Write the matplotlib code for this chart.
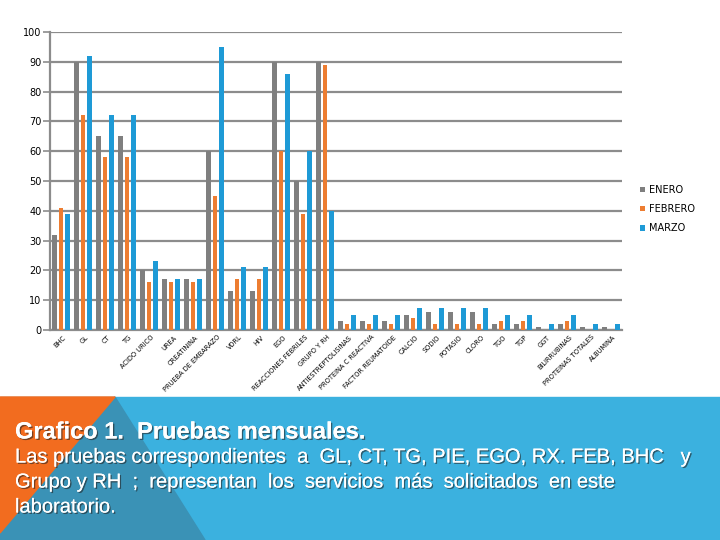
import matplotlib
matplotlib.use("Agg")
from matplotlib import pyplot as plt
from matplotlib.patches import Polygon
import matplotlib.patheffects as pe
import numpy as np

# datos
pruebas = ["BHC", "GL", "CT", "TG", "ACIDO URICO", "UREA", "CREATININA",
           "PRUEBA DE EMBARAZO", "VDRL", "HIV", "EGO", "REACCIONES FEBRILES",
           "GRUPO Y RH", "ANTIESTREPTOLISINAS", "PROTEINA C REACTIVA",
           "FACTOR REUMATOIDE", "CALCIO", "SODIO", "POTASIO", "CLORO", "TGO",
           "TGP", "GGT", "BILIRRUBINAS", "PROTEINAS TOTALES", "ALBUMINA"]
enero = [32, 90, 65, 65, 20, 17, 17, 60, 13, 13, 90, 50, 90,
         3, 3, 3, 5, 6, 6, 6, 2, 2, 1, 2, 1, 1]
febrero = [41, 72, 58, 58, 16, 16, 16, 45, 17, 17, 60, 39, 89,
           2, 2, 2, 4, 2, 2, 2, 3, 3, 0, 3, 0, 0]
marzo = [39, 92, 72, 72, 23, 17, 17, 95, 21, 21, 86, 60, 40,
         5, 5, 5, 7.5, 7.5, 7.5, 7.5, 5, 5, 2, 5, 2, 2]

gris = "#7f7f7f"
naranja = "#ed7d31"
azul = "#1e9ad6"

fig = plt.figure(figsize=(7.2, 5.4), dpi=100)
ax = fig.add_axes([50/720, 1-330/540, 572/720, 298/540])

x = np.arange(len(pruebas))
w = 0.22
ax.bar(x - 0.28, enero, w, color=gris, label="ENERO", zorder=3)
ax.bar(x, febrero, w, color=naranja, label="FEBRERO", zorder=3)
ax.bar(x + 0.28, marzo, w, color=azul, label="MARZO", zorder=3)

ax.set_xlim(-0.5, len(pruebas) - 0.5)
ax.set_ylim(0, 100)
ax.set_yticks(range(0, 101, 10))
ax.yaxis.grid(True, color="#8c8c8c", lw=1.6, zorder=0)
ax.set_axisbelow(True)
for s in ["top", "right"]:
    ax.spines[s].set_visible(False)
ax.spines["left"].set_color("#8c8c8c")
ax.spines["left"].set_linewidth(1.6)
ax.spines["bottom"].set_color("#8c8c8c")
ax.spines["bottom"].set_linewidth(1.6)
ax.tick_params(axis="y", length=5, color="#8c8c8c", width=1.2, labelsize=7, pad=1)
ax.tick_params(axis="x", length=0, pad=3)
ax.set_xticks(x + 0.1)
ax.set_xticklabels(pruebas, rotation=45, ha="right", va="top",
                   rotation_mode="anchor", fontsize=4.8)

ax.legend(loc="upper left", bbox_to_anchor=(631/720, 1-176/540),
          bbox_transform=fig.transFigure, frameon=False, fontsize=7,
          handlelength=0.5, handleheight=0.5, handletextpad=0.5,
          labelspacing=0.95)

# franja inferior
fondo = Polygon([(0, 0), (1, 0), (1, 143/540), (0, 143/540)],
                closed=True, transform=fig.transFigure, color="#3bb1df", zorder=0)
oscuro = Polygon([(115/720, 143/540), (205/720, 0), (0, 0), (0, 7/540)],
                 closed=True, transform=fig.transFigure, color="#3a92b6", zorder=1)
nar = Polygon([(0, 143/540), (115/720, 143/540), (0, 7/540)],
              closed=True, transform=fig.transFigure, color="#f26c1f", zorder=2)
for p in [fondo, oscuro, nar]:
    fig.patches.append(p)

sombra = [pe.withSimplePatchShadow(offset=(1, -1), shadow_rgbFace="#222222", alpha=0.6),
          pe.Normal()]
fig.text(15/720, 1-432/540, "Grafico 1.  Pruebas mensuales.", color="white",
         fontsize=17, fontweight="bold", family=["Liberation Sans", "DejaVu Sans"],
         va="center", path_effects=sombra)
lineas = ["Las pruebas correspondientes  a  GL, CT, TG, PIE, EGO, RX. FEB, BHC   y",
          "Grupo y RH  ;  representan  los  servicios  más  solicitados  en este",
          "laboratorio."]
for i, t in enumerate(lineas):
    fig.text(15/720, 1-(457 + 25*i)/540, t, color="white", fontsize=14.5,
             family=["Liberation Sans", "DejaVu Sans"],
             va="center", path_effects=sombra)

fig.savefig("out.png", dpi=100)
